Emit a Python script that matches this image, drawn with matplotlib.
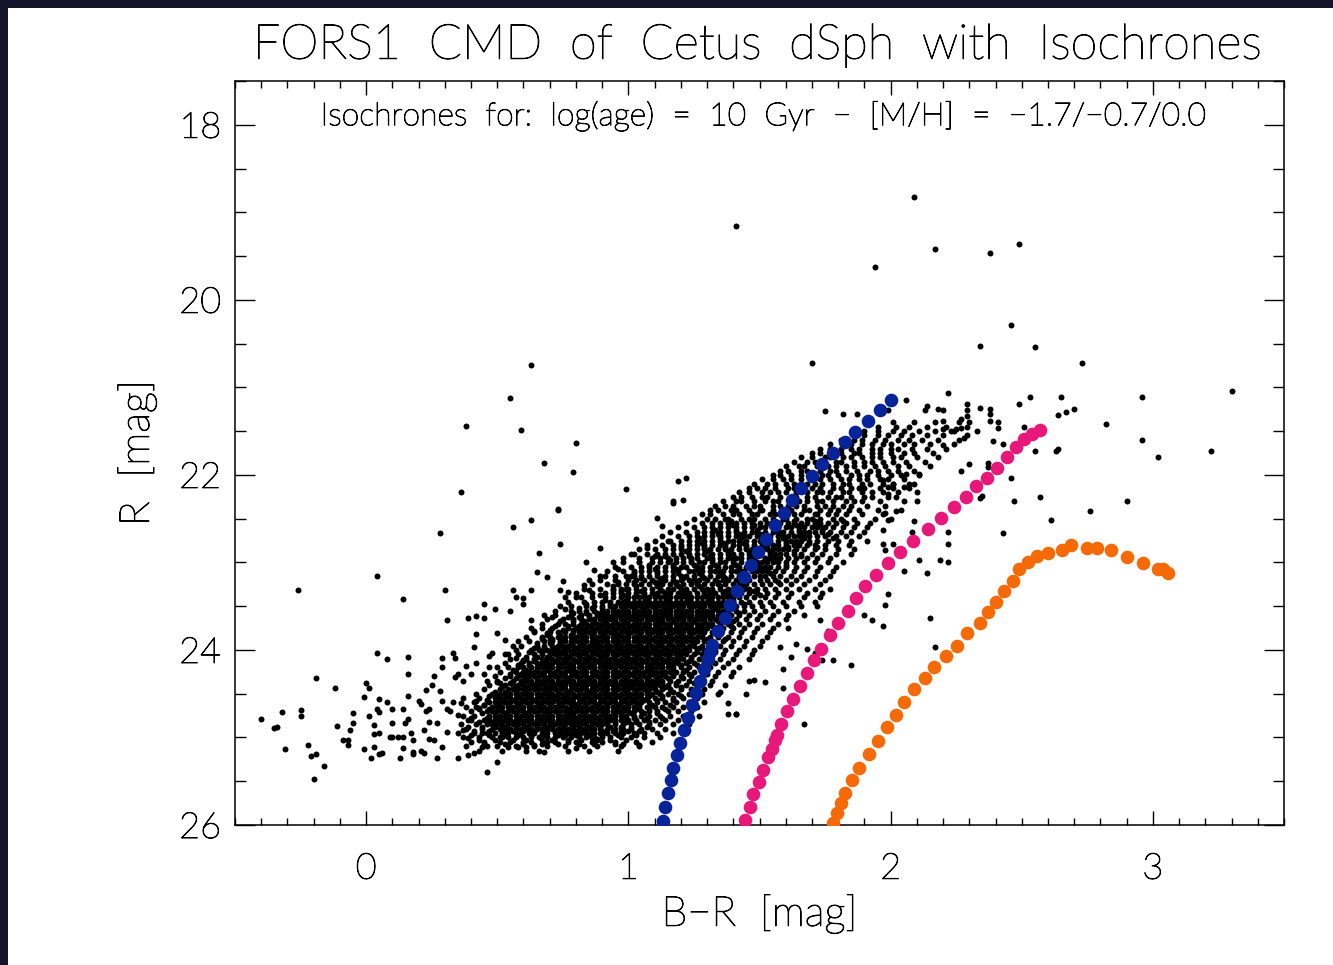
import matplotlib.pyplot as plt
import numpy as np
from matplotlib.patches import Rectangle
from matplotlib.ticker import MultipleLocator
import matplotlib.patheffects as pe

# isochrones: log(age) = 10 Gyr, [M/H] = -1.7 / -0.7 / 0.0
iso_blue_br = [1.132, 1.140, 1.153, 1.162, 1.172, 1.185, 1.198, 1.213, 1.227, 1.242, 1.259, 1.274,
               1.290, 1.303, 1.312, 1.320, 1.340, 1.367, 1.388, 1.414, 1.442, 1.468, 1.496, 1.523,
               1.560, 1.592, 1.625, 1.660, 1.701, 1.739, 1.782, 1.826, 1.865, 1.912, 1.960, 2.001]
iso_blue_r = [25.95, 25.79, 25.64, 25.49, 25.35, 25.20, 25.06, 24.91, 24.78, 24.63, 24.49, 24.36,
              24.22, 24.10, 24.02, 23.94, 23.78, 23.64, 23.49, 23.33, 23.17, 23.03, 22.88, 22.73,
              22.57, 22.44, 22.29, 22.15, 22.01, 21.88, 21.75, 21.62, 21.51, 21.38, 21.26, 21.15]

iso_pink_br = [1.445, 1.462, 1.477, 1.499, 1.515, 1.534, 1.547, 1.560, 1.566, 1.582, 1.604, 1.627,
               1.655, 1.681, 1.706, 1.735, 1.767, 1.801, 1.837, 1.869, 1.903, 1.944, 1.991, 2.037,
               2.087, 2.141, 2.192, 2.240, 2.287, 2.325, 2.367, 2.405, 2.444, 2.479, 2.510, 2.539, 2.571]
iso_pink_r = [25.94, 25.79, 25.65, 25.51, 25.37, 25.22, 25.13, 25.03, 24.97, 24.85, 24.70, 24.56,
              24.41, 24.26, 24.12, 23.99, 23.83, 23.69, 23.55, 23.41, 23.27, 23.14, 23.01, 22.88,
              22.76, 22.62, 22.49, 22.37, 22.25, 22.13, 22.03, 21.92, 21.80, 21.68, 21.59, 21.53, 21.49]

iso_orange_br = [1.780, 1.797, 1.810, 1.827, 1.852, 1.881, 1.918, 1.952, 1.986, 2.019, 2.052, 2.091,
                 2.131, 2.166, 2.212, 2.253, 2.293, 2.339, 2.373, 2.403, 2.431, 2.466, 2.490, 2.522,
                 2.560, 2.602, 2.653, 2.688, 2.749, 2.787, 2.841, 2.901, 2.961, 3.018, 3.037, 3.056]
iso_orange_r = [25.98, 25.86, 25.75, 25.64, 25.49, 25.35, 25.19, 25.04, 24.88, 24.74, 24.59, 24.45,
                24.32, 24.20, 24.07, 23.95, 23.81, 23.69, 23.57, 23.45, 23.33, 23.21, 23.08, 23.00,
                22.93, 22.89, 22.86, 22.80, 22.83, 22.83, 22.86, 22.94, 23.01, 23.07, 23.08, 23.12]

# dense part of the CMD, row by row: R mag and B-R values (in 0.01 mag)
cloud_r = [25.15, 25.10, 25.05, 25.00, 24.95, 24.90, 24.85, 24.80, 24.75, 24.70, 24.65, 24.60,
           24.55, 24.50, 24.45, 24.40, 24.35, 24.30, 24.25, 24.20, 24.15, 24.10, 24.05, 24.00,
           23.95, 23.90, 23.85, 23.80, 23.75, 23.70, 23.65, 23.60, 23.55, 23.50, 23.45, 23.40,
           23.35, 23.30, 23.25, 23.20, 23.15, 23.10, 23.05, 23.00, 22.95, 22.90, 22.85, 22.80,
           22.75, 22.70, 22.65, 22.60, 22.55, 22.50, 22.45, 22.40, 22.35, 22.30, 22.25, 22.20,
           22.15, 22.10, 22.05, 22.00, 21.95, 21.90, 21.85, 21.80, 21.75, 21.70, 21.65, 21.60,
           21.55, 21.50, 21.45, 21.40]
cloud_br = [
    "43 52 61 66 77 85 96",
    "38 46 50 57 64 69 76 83 88 97 104",
    "40 45 51 55 60 63 69 72 77 80 86 90 95 103 109",
    "37 43 48 51 54 57 60 63 66 69 72 75 78 81 84 87 90 93 97 101 106 112",
    "35 41 46 49 52 54 57 59 62 64 67 69 72 74 77 79 82 84 87 89 92 95 98 102 106 111 117",
    "38 44 48 51 53 55 57 59 61 63 65 67 69 71 73 75 77 79 81 83 85 87 89 92 95 98 101 105 109 114",
    "36 42 46 48 50 52 54 56 58 60 62 64 66 68 70 72 74 76 78 80 82 84 86 88 90 92 95 98 101 104 108 112 117 123",
    "39 45 47 49 51 53 55 57 59 61 63 65 67 69 71 73 75 77 79 81 83 85 87 89 91 93 95 97 100 103 106 110 114 119",
    "37 41 47 49 51 53 55 57 59 61 63 65 67 69 71 73 75 77 79 81 83 85 87 89 91 93 95 97 99 102 105 108 112 116 121 127",
    "40 46 48 50 52 54 56 58 60 62 64 66 68 70 72 74 76 78 80 82 84 86 88 90 92 94 96 98 100 102 105 108 111 115 119 124",
    "38 42 48 50 52 54 56 58 60 62 64 66 68 70 72 74 76 78 80 82 84 86 88 90 92 94 96 98 100 102 104 107 110 113 117 121 126",
    "41 47 49 51 53 55 57 59 61 63 65 67 69 71 73 75 77 79 81 83 85 87 89 91 93 95 97 99 101 103 105 108 111 114 118 123 129",
    "43 49 51 53 55 57 59 61 63 65 67 69 71 73 75 77 79 81 83 85 87 89 91 93 95 97 99 101 103 105 107 110 113 117 121 126",
    "42 48 51 53 55 57 59 61 63 65 67 69 71 73 75 77 79 81 83 85 87 89 91 93 95 97 99 101 103 105 107 109 112 115 119 123 128 134",
    "45 51 54 56 58 60 62 64 66 68 70 72 74 76 78 80 82 84 86 88 90 92 94 96 98 100 102 104 106 108 110 113 116 120 124 129",
    "47 53 56 58 60 62 64 66 68 70 72 74 76 78 80 82 84 86 88 90 92 94 96 98 100 102 104 106 108 110 112 115 118 122 126 131 137",
    "46 50 56 59 61 63 65 67 69 71 73 75 77 79 81 83 85 87 89 91 93 95 97 99 101 103 105 107 109 111 113 116 119 123 127 132",
    "49 55 58 60 62 64 66 68 70 72 74 76 78 80 82 84 86 88 90 92 94 96 98 100 102 104 106 108 110 112 114 117 120 124 128 133 139",
    "51 57 60 62 64 66 68 70 72 74 76 78 80 82 84 86 88 90 92 94 96 98 100 102 104 106 108 110 112 114 116 118 121 125 129 134 140",
    "50 54 60 63 65 67 69 71 73 75 77 79 81 83 85 87 89 91 93 95 97 99 101 103 105 107 109 111 113 115 117 120 123 127 131 136 142",
    "53 59 62 65 67 69 71 73 75 77 79 81 83 85 87 89 91 93 95 97 99 101 103 105 107 109 111 113 115 117 119 122 125 129 133 138",
    "55 61 64 67 69 71 73 75 77 79 81 83 85 87 89 91 93 95 97 99 101 103 105 107 109 111 113 115 117 119 121 124 127 131 135 140 146",
    "54 58 64 67 70 72 74 76 78 80 82 84 86 88 90 92 94 96 98 100 102 104 106 108 110 112 114 116 118 120 122 125 128 132 136 141 147",
    "57 63 66 69 71 73 75 77 79 81 83 85 87 89 91 93 95 97 99 101 103 105 107 109 111 113 115 117 119 121 123 126 129 133 137 142 148",
    "59 65 68 71 73 75 77 79 81 83 85 87 89 91 93 95 97 99 101 103 105 107 109 111 113 115 117 119 121 123 125 128 131 135 139 144 150",
    "58 62 68 71 74 76 78 80 82 84 86 88 90 92 94 96 98 100 102 104 106 108 110 112 114 116 118 120 122 124 126 129 132 136 140 145 151",
    "61 67 70 73 76 78 80 82 84 86 88 90 92 94 96 98 100 102 104 106 108 110 112 114 116 118 120 122 124 126 128 131 134 138 142 147 153",
    "64 70 73 76 79 81 83 85 87 89 91 93 95 97 99 101 103 105 107 109 111 113 115 117 119 121 123 125 127 129 132 135 139 143 148 154",
    "63 67 71 77 80 82 84 86 88 90 92 94 96 98 100 102 104 106 108 110 112 114 116 118 120 122 124 126 128 130 133 136 140 144 149 155 161",
    "67 73 76 79 82 84 86 88 90 92 94 96 98 100 102 104 106 108 110 112 114 116 118 120 122 124 126 128 130 132 135 138 142 146 151 157",
    "69 75 79 82 85 87 89 91 93 95 97 99 101 103 105 107 109 111 113 115 117 119 121 123 125 127 129 131 133 135 138 141 145 149 154 160",
    "68 72 78 82 85 88 90 92 94 96 98 100 102 104 106 108 110 112 114 116 118 120 122 124 126 128 130 132 134 136 139 142 146 150 155 161 167",
    "72 78 81 84 87 90 92 94 96 98 100 102 104 106 108 110 112 114 116 118 120 122 124 126 128 130 132 134 136 138 141 144 148 152 157 163",
    "74 78 84 87 90 93 95 97 99 101 103 105 107 109 111 113 115 117 119 121 123 125 127 129 131 133 135 137 139 141 144 147 151 155 160 166 172",
    "77 83 87 90 93 96 98 100 102 104 106 108 110 112 114 116 118 120 122 124 126 128 130 132 134 136 138 140 143 146 150 154 159 165 171",
    "76 80 86 91 94 97 100 102 104 106 108 110 112 114 116 118 120 122 124 126 128 130 132 134 136 138 140 142 145 148 152 156 161 167 173",
    "80 86 91 94 97 100 103 106 109 111 114 116 119 121 123 126 129 131 133 136 139 141 143 146 149 153 157 162 168 174",
    "83 89 94 97 100 103 106 109 112 115 117 120 122 125 128 130 132 135 138 140 142 144 146 149 152 156 160 165 171 177",
    "86 92 96 99 102 105 108 111 113 116 118 121 124 126 129 132 134 137 140 142 145 148 151 154 158 162 167 173",
    "85 89 95 100 103 106 109 112 114 117 120 123 125 127 130 133 136 138 141 144 146 150 153 156 160 164 169 175",
    "89 95 99 102 105 108 111 114 117 120 122 125 128 131 134 136 139 142 144 148 150 152 155 158 162 166 171 177",
    "92 98 102 105 108 111 114 117 119 123 125 128 131 133 136 139 141 144 147 149 151 153 156 159 163 167 172 178",
    "95 101 105 108 111 114 117 120 122 126 128 131 134 137 139 142 145 147 150 152 154 157 160 164 168 173 179",
    "94 98 104 109 112 115 118 121 124 127 129 132 135 137 140 143 146 149 151 153 155 157 160 163 167 171 176 182",
    "98 104 109 112 115 118 121 124 126 130 132 135 138 141 143 146 148 152 154 156 158 161 164 168 172 177",
    "101 107 111 114 117 120 123 126 129 132 135 138 140 143 146 148 150 154 156 158 160 163 166 170 174 179 185",
    "104 110 114 117 120 123 126 129 131 134 137 139 142 145 147 151 153 155 157 159 161 164 167 171 175 180 186",
    "107 113 117 120 123 126 129 132 135 137 140 142 145 148 151 153 155 157 160 163 165 168 171 175 179 184",
    "110 116 120 123 126 129 132 135 138 140 142 145 148 150 152 154 157 160 162 164 166 169 172 176 180 185 191",
    "113 119 123 126 129 132 135 138 141 144 146 149 151 154 157 159 161 163 165 167 169 172 175 179 183 188",
    "116 122 126 129 132 135 138 141 144 147 149 152 155 157 159 162 165 167 169 171 174 177 181 185 190",
    "119 125 129 132 135 138 141 144 147 150 152 155 157 160 162 165 167 170 172 175 178 182 186 191",
    "122 128 132 135 138 141 144 147 150 153 156 158 161 163 166 168 171 173 176 179 183 187 192",
    "125 130 133 137 138 143 146 148 152 155 159 160 164 168 170 173 178 181 186 194 200",
    "128 131 136 140 142 147 149 154 156 158 163 166 171 172 176 179 183 189 197",
    "131 134 139 141 146 150 151 155 160 162 167 169 173 177 180 184 188 195 204",
    "133 137 140 145 148 150 155 158 161 164 167 172 175 178 182 185 191 198",
    "136 141 143 148 152 155 157 162 165 168 172 174 178 183 186 189 196 205",
    "140 143 147 151 153 158 163 164 168 171 176 179 181 185 190 193 199",
    "142 146 151 154 157 160 164 168 172 174 177 182 184 189 193 197 203 210",
    "146 149 152 156 161 163 167 170 173 178 181 185 188 190 196 201 207",
    "148 153 156 160 163 168 171 174 178 182 184 189 192 197 201 209",
    "151 155 159 162 166 170 173 177 181 184 188 191 196 199 205",
    "155 158 162 166 169 174 176 180 185 188 191 195 200 204 211",
    "158 161 166 168 173 177 179 183 187 192 195 199 203 209",
    "160 165 167 172 176 179 183 186 190 194 198 203 207 215",
    "163 168 171 175 179 181 186 190 193 197 201 206 213",
    "166 170 175 177 182 185 189 193 196 201 204 210 218",
    "170 173 178 181 186 188 193 196 200 205 209 216",
    "173 177 181 185 188 193 196 200 203 208 214 221",
    "177 182 185 189 193 197 200 205 209 215 224",
    "181 186 189 194 198 203 207 212 218 226",
    "186 190 195 199 204 208 214 220 229",
    "190 195 201 205 211 217 224 233",
    "195 202 207 214 221 229",
    "201 209 217 226",
]

# in-between rows where the core is densest
core_r = [25.075, 25.025, 24.975, 24.925, 24.875, 24.825, 24.775, 24.725, 24.675, 24.625, 24.575,
          24.525, 24.475, 24.425, 24.375, 24.325, 24.275, 24.225, 24.175, 24.125, 24.075, 24.025,
          23.975, 23.925, 23.875, 23.825, 23.775, 23.725, 23.675, 23.625, 23.575, 23.525, 23.475,
          23.425, 23.375, 23.325, 23.275, 23.225, 23.175, 23.125, 23.075, 23.025, 22.975, 22.925,
          22.875, 22.825, 22.775, 22.725, 22.675, 22.625, 22.575, 22.525]
core_br = [
    "45 53 60 67 73 81 87 95",
    "43 49 56 61 67 71 77 82 88 93 99",
    "40 47 53 58 63 68 73 76 80 85 90 96 103",
    "41 47 52 56 60 64 68 72 76 80 83 86 90 94 97 100 104",
    "39 44 49 53 57 61 65 69 71 75 79 81 85 89 93 97 101 107",
    "43 48 52 56 60 63 67 70 73 77 81 83 87 91 95 99 103 108",
    "40 46 50 54 58 62 66 70 74 76 80 84 88 92 94 98 102 107 113",
    "44 49 53 57 61 65 69 73 77 79 83 87 91 95 97 101 106 111",
    "43 47 51 55 59 63 67 69 73 77 81 85 89 91 95 99 103 108 114",
    "45 50 54 58 62 66 70 74 78 80 84 88 92 96 100 104 109 116",
    "46 52 56 60 64 68 72 76 78 82 86 90 94 98 102 106 111 117",
    "47 50 54 58 62 66 70 72 76 80 84 88 92 96 100 104 108 113 120",
    "49 53 57 61 65 69 73 77 81 85 87 91 95 99 103 107 111 117",
    "52 57 61 65 69 71 75 79 83 87 91 95 99 101 105 109 114 120",
    "51 55 59 63 67 71 75 79 83 85 89 93 97 101 105 109 113 118 125",
    "53 57 61 65 69 73 77 81 85 89 91 95 99 103 107 111 115 121",
    "55 59 63 67 71 75 79 83 87 91 95 97 101 105 109 113 117 123 130",
    "56 61 65 69 73 77 79 83 87 91 95 99 103 107 109 113 117 122",
    "58 62 66 70 74 78 82 86 90 92 96 100 104 108 112 116 120 126",
    "60 64 68 72 76 80 84 88 92 96 98 102 106 110 114 118 123 129",
    "61 65 69 73 77 81 85 89 91 95 99 103 107 111 115 119 124",
    "62 67 71 75 79 83 87 91 95 97 101 105 109 113 117 121 126 133",
    "64 68 72 76 80 84 88 92 96 100 104 106 110 114 118 122 127",
    "65 70 74 78 82 86 88 92 96 100 104 108 112 116 120 125 131",
    "67 71 75 79 83 87 91 95 99 103 107 109 113 117 121 125 130 137",
    "69 74 78 82 86 90 94 96 100 104 108 112 116 120 124 128 134",
    "70 75 79 83 87 91 95 99 103 105 109 113 117 121 125 129 135",
    "72 77 81 85 89 93 97 101 103 107 111 115 119 123 127 132 139",
    "74 79 83 87 91 95 99 103 107 111 113 117 121 125 129 134 140",
    "77 81 85 89 93 97 101 105 109 111 115 119 123 127 131 137",
    "79 84 88 92 96 100 102 106 110 114 118 122 126 130 135 142",
    "81 86 90 94 98 102 106 110 114 116 120 124 128 133 139",
    "84 93 101 109 117 125 133 144",
    "91 99 107 115 123 131 140",
    "89 98 106 114 122 130 138 150",
    "97 105 113 121 129 137 148",
    "94 103 111 119 127 135 144",
    "102 110 118 126 134 143 157",
    "105 113 121 129 137 145",
    "102 111 119 127 135 143 154",
    "110 118 126 134 142 151",
    "108 117 125 133 141 149 160",
    "116 124 132 140 148 157",
    "114 123 131 139 147 155 166",
    "122 130 138 146 154 163",
    "120 129 137 145 153 161 172",
    "128 136 144 152 160 169",
    "127 135 143 151 159 167 178",
    "134 142 150 158 166 176",
    "133 141 149 157 165 174",
    "140 148 156 164 173",
    "139 147 155 163 171 182",
]

# individual stars outside the dense band (B-R, R)
field_stars = [
    (-0.26, 23.31), (-0.40, 24.79), (-0.35, 24.89), (-0.34, 24.88), (-0.32, 24.71), (-0.31, 25.13),
    (-0.25, 24.69), (-0.25, 24.75), (-0.22, 25.09), (-0.21, 25.21), (-0.19, 25.19), (-0.20, 25.47),
    (-0.19, 24.32), (-0.16, 25.33), (-0.12, 24.43), (-0.11, 24.87), (-0.09, 25.03), (-0.07, 25.03),
    (-0.07, 25.09), (-0.06, 24.91), (-0.05, 24.84), (-0.05, 24.72), (-0.01, 24.54), (-0.01, 25.13),
    (0.00, 24.38), (0.01, 24.43), (0.01, 24.75), (0.02, 25.23), (0.03, 24.86), (0.03, 24.96),
    (0.03, 25.11), (0.04, 24.67), (0.04, 23.15), (0.04, 24.04), (0.05, 24.56), (0.05, 24.71),
    (0.05, 24.95), (0.05, 25.19), (0.06, 25.18), (0.08, 24.10), (0.08, 24.59), (0.09, 25.00),
    (0.10, 24.68), (0.10, 24.83), (0.10, 25.00), (0.12, 25.00), (0.13, 25.23), (0.14, 25.12),
    (0.14, 23.42), (0.14, 24.67), (0.14, 25.00), (0.15, 24.83), (0.16, 24.53), (0.16, 24.79),
    (0.16, 24.27), (0.16, 24.08), (0.17, 24.95), (0.18, 25.03), (0.18, 25.19), (0.18, 25.17),
    (0.20, 24.58), (0.21, 24.62), (0.21, 25.16), (0.22, 25.18), (0.22, 24.92), (0.23, 24.46),
    (0.23, 24.70), (0.24, 24.82), (0.24, 24.67), (0.24, 25.02), (0.25, 24.40), (0.26, 25.03),
    (0.26, 24.30), (0.27, 25.23), (0.27, 24.84), (0.28, 22.66), (0.28, 24.47), (0.29, 24.19),
    (0.29, 24.09), (0.29, 25.11), (0.29, 24.58), (0.30, 23.32), (0.31, 24.67), (0.31, 23.66),
    (0.31, 24.94), (0.32, 24.70), (0.33, 24.60), (0.33, 24.04), (0.34, 24.09), (0.34, 24.31),
    (0.35, 24.27), (0.35, 24.74), (0.35, 25.24), (0.36, 24.61), (0.37, 24.92), (0.37, 24.55),
    (0.37, 24.35), (0.38, 24.18), (0.39, 25.01), (0.39, 25.20), (0.39, 23.64), (0.40, 24.28),
    (0.40, 24.80), (0.41, 23.97), (0.41, 25.18), (0.42, 23.61), (0.42, 24.15), (0.42, 24.58),
    (0.42, 23.82), (0.43, 24.66), (0.44, 24.95), (0.44, 25.11), (0.45, 24.27), (0.45, 23.63),
    (0.45, 23.48), (0.45, 24.63), (0.46, 25.39), (0.47, 24.07), (0.47, 24.77), (0.47, 24.20),
    (0.48, 24.03), (0.49, 23.53), (0.50, 23.81), (0.50, 24.37), (0.50, 25.28), (0.51, 24.61),
    (0.52, 24.88), (0.52, 25.00), (0.53, 23.89), (0.53, 24.05), (0.54, 25.11), (0.55, 23.56),
    (0.56, 22.59), (0.56, 23.31), (0.56, 23.95), (0.57, 24.09), (0.57, 23.40), (0.58, 25.11),
    (0.58, 24.19), (0.60, 23.41), (0.60, 23.48), (0.60, 24.11), (0.61, 25.11), (0.61, 24.27),
    (0.63, 23.31), (0.63, 22.51), (0.63, 23.66), (0.64, 25.09), (0.64, 23.78), (0.65, 23.11),
    (0.65, 23.97), (0.66, 22.89), (0.67, 24.17), (0.68, 25.17), (0.69, 23.17), (0.69, 23.81),
    (0.70, 23.89), (0.71, 23.62), (0.73, 22.40), (0.74, 22.79), (0.74, 23.32), (0.75, 23.21),
    (0.76, 23.53), (0.77, 24.08), (0.77, 23.34), (0.80, 25.12), (0.82, 23.40), (0.83, 23.26),
    (0.84, 22.99), (0.85, 23.32), (0.86, 25.01), (0.87, 23.09), (0.88, 25.02), (0.89, 22.84),
    (0.91, 23.15), (0.94, 23.32), (0.96, 23.22), (0.96, 23.08), (0.98, 25.07), (0.99, 23.30),
    (1.01, 23.15), (1.02, 22.90), (1.03, 22.73), (1.04, 25.09), (1.04, 23.00), (1.07, 22.83),
    (1.10, 22.93), (1.11, 22.49), (1.13, 22.58), (1.15, 22.75), (1.17, 22.32),
    (0.63, 20.75), (0.55, 21.12), (0.38, 21.44), (0.59, 21.49), (0.80, 21.64), (0.68, 21.86),
    (0.79, 21.97), (0.36, 22.19), (0.99, 22.16), (1.19, 22.07), (1.22, 22.04), (1.17, 22.30),
    (1.21, 22.29), (0.73, 22.39),
    (1.41, 19.16), (1.70, 20.72), (1.94, 19.62), (2.09, 18.82), (2.17, 19.42), (2.38, 19.46),
    (2.49, 19.36), (2.46, 20.29), (2.34, 20.53), (2.55, 20.54), (2.73, 20.72), (3.30, 21.04),
    (2.22, 21.06), (2.65, 21.11), (2.53, 21.11), (2.96, 21.11), (2.49, 21.19), (2.70, 21.25),
    (2.67, 21.28), (2.64, 21.32), (2.82, 21.42), (2.96, 21.60), (3.02, 21.79), (3.22, 21.73),
    (2.63, 21.73), (2.64, 21.70), (2.55, 21.73), (2.43, 21.65), (2.51, 21.45), (2.39, 21.61),
    (2.46, 22.03), (2.57, 22.25), (2.47, 22.30), (2.76, 22.41), (2.90, 22.30), (2.61, 22.52),
    (2.43, 22.66), (2.37, 21.86), (2.37, 21.91), (2.30, 21.88), (2.27, 21.96), (2.35, 22.24),
    (2.34, 22.26), (2.22, 22.65), (2.22, 22.79), (2.11, 22.97), (2.19, 22.97), (2.22, 23.00),
    (2.05, 23.10), (2.14, 23.12), (2.09, 22.53), (2.08, 22.65), (2.10, 22.30),
    (2.15, 23.64), (2.17, 23.97), (1.85, 24.17), (1.74, 24.12), (1.78, 24.12), (1.67, 24.85),
    (1.41, 24.73), (1.45, 24.50), (1.48, 24.34), (1.52, 24.37), (1.59, 24.43), (1.59, 24.22),
    (1.93, 23.66), (1.97, 23.73), (1.99, 23.36), (1.98, 23.49), (1.90, 23.60),
    (1.38, 24.73), (1.41, 24.73), (1.38, 24.61), (1.35, 24.48), (1.46, 24.35),
    (1.58, 23.97), (1.64, 23.93), (1.62, 24.08), (1.68, 23.99), (1.71, 24.04), (1.73, 23.66),
    (1.76, 23.78),
    (1.97, 22.06), (1.99, 22.14), (2.01, 22.10), (2.05, 22.14), (2.07, 22.10), (1.99, 22.22),
    (2.02, 22.25), (2.02, 22.41), (1.98, 22.44), (1.99, 22.52), (1.97, 22.63), (2.01, 22.79),
    (1.97, 22.79), (1.98, 22.86), (2.11, 21.99), (2.06, 21.99), (2.14, 21.21), (2.18, 21.25),
    (2.20, 21.26), (2.29, 21.19), (2.29, 21.26), (2.34, 21.24), (2.38, 21.25), (2.38, 21.30),
    (2.29, 21.33), (2.27, 21.36), (2.30, 21.40), (2.38, 21.38), (2.41, 21.40), (2.41, 21.46),
    (2.20, 21.38), (2.20, 21.48), (2.23, 21.50), (2.25, 21.48), (2.27, 21.47), (2.20, 21.66),
    (2.28, 21.58), (2.06, 21.15), (1.99, 21.26), (2.13, 21.26), (1.75, 21.27), (1.82, 21.31),
    (1.87, 21.31),
]

# gather all stars
star_br, star_r = [], []
for r, row in list(zip(cloud_r, cloud_br)) + list(zip(core_r, core_br)):
    vals = [int(v) / 100 for v in row.split()]
    star_br += vals
    star_r += [r] * len(vals)
star_br += [s[0] for s in field_stars]
star_r += [s[1] for s in field_stars]

plt.rcParams['font.family'] = ['Lato', 'DejaVu Sans']
plt.rcParams['font.weight'] = 'light'
plt.rcParams['axes.labelweight'] = 'light'
thick = [pe.withStroke(linewidth=0.7, foreground='black')]

fig = plt.figure(figsize=(13.33, 9.65), dpi=100, facecolor='#14152a')
fig.add_artist(Rectangle((8 / 1333, 0), 1, 1 - 8 / 965, transform=fig.transFigure,
                         facecolor='white', edgecolor='none', zorder=-5))
ax = fig.add_axes([235 / 1333, 1 - 825 / 965, 1049 / 1333, 744 / 965])

ax.plot(star_br, star_r, 'o', color='black', ms=4.3, mew=0, zorder=2)
ax.plot(iso_blue_br, iso_blue_r, 'o', color='#06239a', ms=9.8, mew=0, zorder=3)
ax.plot(iso_pink_br, iso_pink_r, 'o', color='#e8187a', ms=9.8, mew=0, zorder=3)
ax.plot(iso_orange_br, iso_orange_r, 'o', color='#f56a06', ms=9.8, mew=0, zorder=3)

ax.set_xlim(-0.5, 3.5)
ax.set_ylim(26.0, 17.5)

ax.xaxis.set_major_locator(MultipleLocator(1))
ax.xaxis.set_minor_locator(MultipleLocator(0.1))
ax.yaxis.set_major_locator(MultipleLocator(2))
ax.yaxis.set_minor_locator(MultipleLocator(0.5))
ax.tick_params(which='both', direction='in', top=True, right=True, width=1.0, color='black')
ax.tick_params(axis='x', which='major', length=10, pad=20, labelsize=26)
ax.tick_params(axis='x', which='minor', length=5)
ax.tick_params(axis='y', which='major', length=14.5, pad=10, labelsize=26)
ax.tick_params(axis='y', which='minor', length=8)
for sp in ax.spines.values():
    sp.set_linewidth(1.1)
for lab in ax.get_xticklabels() + ax.get_yticklabels():
    lab.set_path_effects(thick)

ax.set_xlabel('B\u2212R  [mag]', fontsize=30, fontweight='light', labelpad=6, path_effects=thick)
ax.set_ylabel('R  [mag]', fontsize=30, fontweight='light', labelpad=16, path_effects=thick)
fig.text(758 / 1333, 1 - 45 / 965, 'FORS1  CMD  of  Cetus  dSph  with  Isochrones',
         ha='center', va='center', fontsize=35, path_effects=thick)
ax.text(0.505, 0.953, 'Isochrones  for:  log(age)  =  10  Gyr  \u2212  [M/H]  =  \u22121.7/\u22120.7/0.0',
        transform=ax.transAxes, ha='center', va='center', fontsize=23, path_effects=thick)

fig.savefig('out.png', dpi=100, facecolor=fig.get_facecolor())
